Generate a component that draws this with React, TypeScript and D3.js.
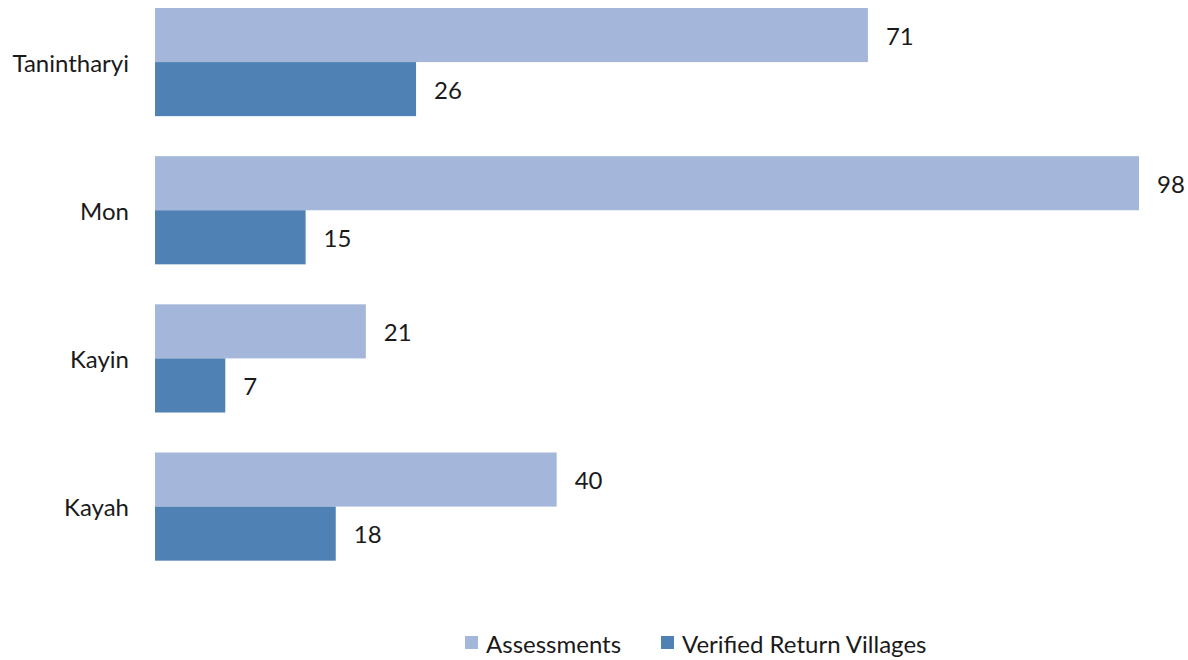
import React from "react";
import * as d3 from "d3";

const categories = ["Tanintharyi", "Mon", "Kayin", "Kayah"];
const assessments = [71, 98, 21, 40];
const verified = [26, 15, 7, 18];
const seriesNames = ["Assessments", "Verified Return Villages"];
const colors = ["#A4B6D9", "#4F81B5"];

const W = 1188;
const H = 660;
const FONT = "Lato, 'Open Sans', sans-serif";
const FS = 24;

export default function App() {
  const y0 = d3
    .scaleBand<string>()
    .domain(categories)
    .range([-12, 580.67])
    .paddingInner(0.27)
    .paddingOuter(0.135);
  const y1 = d3
    .scaleBand<string>()
    .domain(seriesNames)
    .range([0, y0.bandwidth()]);
  const x = d3.scaleLinear().domain([0, 98]).range([155, 1139]);
  const series = [assessments, verified];

  return (
    <svg
      width={W}
      height={H}
      style={{ position: "absolute", left: 0, top: 0, background: "#fff" }}
      fontFamily={FONT}
    >
      {categories.map((c, i) => (
        <g key={c}>
          <text
            x={129}
            y={(y0(c) ?? 0) + y0.bandwidth() / 2}
            textAnchor="end"
            dominantBaseline="central"
            fontSize={FS}
            fill="#1a1a1a"
          >
            {c}
          </text>
          {series.map((vals, s) => {
            const yy = (y0(c) ?? 0) + (y1(seriesNames[s]) ?? 0);
            const h = y1.bandwidth();
            return (
              <g key={s}>
                <rect
                  x={x(0)}
                  y={yy}
                  width={x(vals[i]) - x(0)}
                  height={h}
                  fill={colors[s]}
                />
                <text
                  x={x(vals[i]) + 18}
                  y={yy + h / 2}
                  dominantBaseline="central"
                  fontSize={FS}
                  fill="#1a1a1a"
                >
                  {vals[i]}
                </text>
              </g>
            );
          })}
        </g>
      ))}
      {seriesNames.map((n, s) => {
        const lx = [465, 661][s];
        return (
          <g key={n}>
            <rect x={lx} y={636} width={13} height={13} fill={colors[s]} />
            <text
              x={lx + 21}
              y={643}
              dominantBaseline="central"
              fontSize={FS}
              fill="#1a1a1a"
            >
              {n}
            </text>
          </g>
        );
      })}
    </svg>
  );
}
